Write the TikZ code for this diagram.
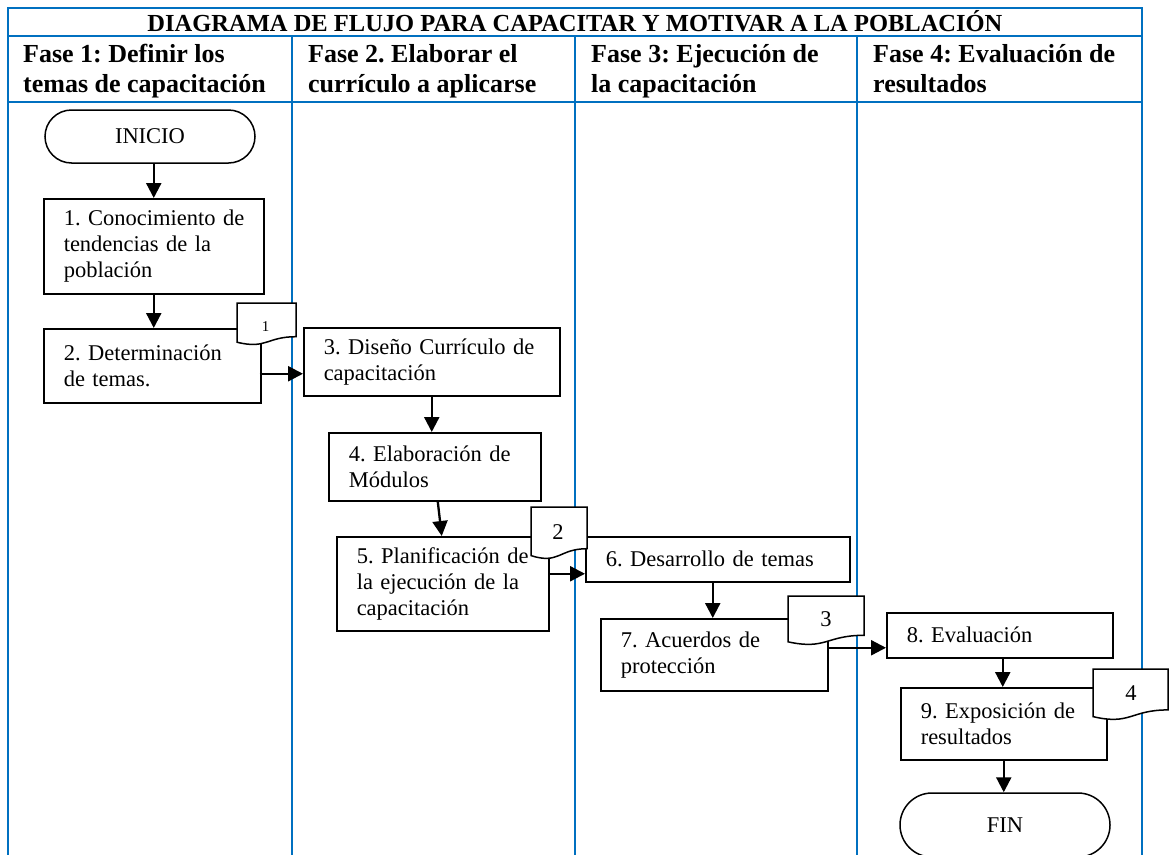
\documentclass[tikz,border=0pt]{standalone}
\usepackage{fontspec}
\setmainfont{Liberation Serif}
\usetikzlibrary{arrows.meta,calc}
\definecolor{lane}{RGB}{0,112,192}
\begin{document}
\frenchspacing
\begin{tikzpicture}[x=1pt,y=-1pt,
  laneline/.style={draw=lane, line width=2.5pt},
  titletext/.style={font=\fontsize{24.5}{28}\selectfont\bfseries, inner sep=0pt},
  hdr/.style={font=\fontsize{26}{30}\selectfont\bfseries, inner sep=0pt, align=left, anchor=base west},
  box/.style={draw, line width=1.5pt, fill=white, inner xsep=20pt, inner ysep=0pt, align=left,
    font=\fontsize{22.5}{26}\selectfont, anchor=north west},
  term/.style={draw, line width=1.5pt, fill=white, minimum width=210pt, font=\fontsize{22.5}{26}\selectfont},
  docshape/.style={draw, line width=1.5pt, fill=white},
  docnum/.style={inner sep=0pt, font=\fontsize{22.5}{26}\selectfont},
  arr/.style={line width=2.3pt, -{Triangle[width=15pt,length=15pt]}}
]
\clip (0,0) rectangle (1169,854);
\fill[white] (0,0) rectangle (1169,854);

% lanes
\draw[laneline] (8,880) -- (8,8) -- (1142,8) -- (1142,880);
\draw[laneline] (8,36) -- (1142,36);
\draw[laneline] (8,102) -- (1142,102);
\draw[laneline] (292,36) -- (292,880);
\draw[laneline] (575,36) -- (575,880);
\draw[laneline] (857,36) -- (857,880);

% title and headers (base = baseline of the last line)
\node[titletext, anchor=base] (title) at (575,31.5) {DIAGRAMA DE FLUJO PARA CAPACITAR Y MOTIVAR A LA POBLACIÓN};
\node[hdr] (h1) at (23,92) {Fase 1: Definir los\\temas de capacitación};
\node[hdr] (h2) at (308,92) {Fase 2. Elaborar el\\currículo a aplicarse};
\node[hdr] (h3) at (591,92) {Fase 3: Ejecución de\\la capacitación};
\node[hdr] (h4) at (873,92) {Fase 4: Evaluación de\\resultados};

% terminators
\node[term, minimum height=53pt, rounded corners=26.5pt] (ini) at (150,136.5) {INICIO};
\node[term, minimum height=64pt, rounded corners=32pt] (fin) at (1005,825) {FIN};

% process boxes
\node[box, text width=180pt, minimum height=95pt] (b1) at (43,198) {\mbox{1. Conocimiento de}\\\mbox{tendencias de la}\\\mbox{población}};
\node[box, text width=177pt, minimum height=74pt] (b2) at (43,328) {\mbox{2. Determinación}\\\mbox{de temas.}};
\node[box, text width=216pt, minimum height=68pt] (b3) at (303,327) {\mbox{3. Diseño Currículo de}\\\mbox{capacitación}};
\node[box, text width=172pt, minimum height=68pt] (b4) at (328,432) {\mbox{4. Elaboración de}\\\mbox{Módulos}};
\node[box, text width=172pt, minimum height=94pt] (b5) at (336,536) {\mbox{5. Planificación de}\\\mbox{la ejecución de la}\\\mbox{capacitación}};
\node[box, text width=224pt, minimum height=45pt] (b6) at (585,536) {\mbox{6. Desarrollo de temas}};
\node[box, text width=187pt, minimum height=72pt] (b7) at (600,618) {\mbox{7. Acuerdos de}\\\mbox{protección}};
\node[box, text width=186pt, minimum height=45pt] (b8) at (886,612) {\mbox{8. Evaluación}};
\node[box, text width=166pt, minimum height=72pt] (b9) at (900,687) {\mbox{9. Exposición de}\\\mbox{resultados}};

% documents
\path[docshape] (237,303) -- (296,303) -- (296,336.7) .. controls (266.5,336.7) and (266.5,349.5) .. (237,342.2) -- cycle;
\node[docnum, font=\fontsize{15}{18}\selectfont] (d1) at (265.5,327) {1};
\path[docshape] (531,507) -- (587,507) -- (587,548.7) .. controls (559,548.7) and (559,564.6) .. (531,555.6) -- cycle;
\node[docnum] (d2) at (558,532) {2};
\path[docshape] (788,596) -- (864,596) -- (864,635.3) .. controls (826,635.3) and (826,650.2) .. (788,641.8) -- cycle;
\node[docnum] (d3) at (826,619) {3};
\path[docshape] (1093,669) -- (1168,669) -- (1168,709.9) .. controls (1130.5,709.9) and (1130.5,725.5) .. (1093,716.6) -- cycle;
\node[docnum] (d4) at (1131,693) {4};

% connectors
\draw[arr] (b1.north |- ini.south) -- (b1.north);
\draw[arr] (b1.south) -- (b1.south |- b2.north);
\draw[arr] ([yshift=-8pt,xshift=-2pt]b2.east) -- ([yshift=-8pt]b2.east -| b3.west);
\draw[arr] (b3.south) -- (b3.south |- b4.north);
\draw[arr] ([xshift=3pt]b4.south) -- ([xshift=-1pt]b5.north);
\draw[arr] ([yshift=10pt]b5.east) -- ([yshift=10pt]b5.east -| b6.west);
\draw[arr] ([xshift=-5pt]b6.south) -- ([xshift=-5pt]b6.south |- b7.north);
\draw[arr] ([yshift=7pt]b7.east) -- ([yshift=7pt]b7.east -| b8.west);
\draw[arr] ([xshift=3pt]b8.south) -- ([xshift=3pt]b8.south |- b9.north);
\draw[arr] (b9.south) -- (b9.south |- fin.north);
\end{tikzpicture}
\end{document}
